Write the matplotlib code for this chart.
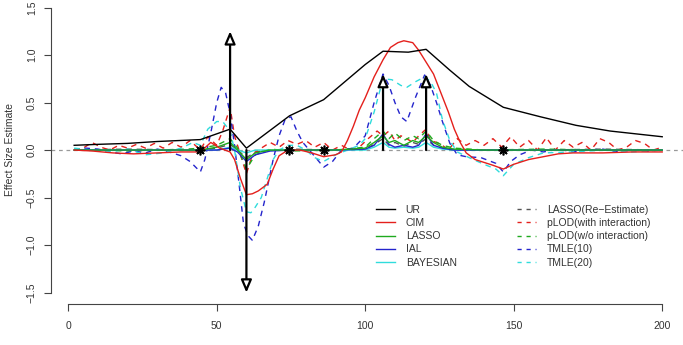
import matplotlib
matplotlib.use("Agg")
import matplotlib.pyplot as plt
from matplotlib.lines import Line2D

plt.rcParams['font.family'] = ['Liberation Sans', 'DejaVu Sans']

# ---- data ----
ur_x = [2, 10, 20, 30, 44.5, 54.5, 60, 74.5, 86, 100, 106, 114.5, 120.5, 128.5, 135, 146.5, 159, 171, 182.5, 200]
ur_y = [0.05, 0.06, 0.07, 0.09, 0.11, 0.22, 0.02, 0.36, 0.53, 0.9, 1.04, 1.03, 1.06, 0.84, 0.67, 0.45, 0.35, 0.26, 0.2, 0.14]

cim_x = [2, 8, 15, 22, 30, 38, 44.5, 48, 51, 54.5, 56, 58, 60, 62, 64, 67, 69, 71, 74, 78,
         82, 86, 90, 92, 94, 96, 98, 100, 103, 106, 108.5, 111, 113, 116, 118, 120, 123, 126, 128, 130,
         132, 134, 137, 140, 143, 146.5, 150, 155, 160, 165, 170, 180, 190, 200]
cim_y = [0.0, -0.01, -0.03, -0.04, -0.03, -0.02, -0.02, 0.08, 0.02, -0.02, -0.1, -0.3, -0.47, -0.46, -0.43, -0.36, -0.2, -0.06, 0.0, 0.0,
         -0.03, -0.07, -0.05, -0.02, 0.1, 0.25, 0.42, 0.55, 0.77, 0.95, 1.08, 1.13, 1.15, 1.13, 1.05, 0.95, 0.8, 0.56, 0.4, 0.22,
         0.08, -0.03, -0.1, -0.13, -0.16, -0.2, -0.15, -0.1, -0.07, -0.04, -0.03, -0.03, -0.02, -0.02]

# LASSO, IAL, BAYESIAN, LASSO(Re-Estimate), pLOD(w/o) share the same marker grid
grid_x = [2, 20, 40, 44.5, 50, 54.5, 57, 60, 63, 68, 75, 90, 100, 103, 106, 108, 110, 113, 116, 118,
          120.5, 123, 126, 130, 140, 160, 180, 200]
lasso_y = [0.0, 0.0, 0.0, 0.0, 0.03, 0.08, 0.0, -0.1, -0.03, 0.0, 0.0, 0.0, 0.02, 0.08, 0.15, 0.08, 0.1, 0.05, 0.1, 0.08,
           0.15, 0.08, 0.03, 0.01, 0.0, 0.0, 0.0, 0.0]
ial_y = [0.0, 0.0, 0.0, 0.0, 0.0, 0.02, -0.02, -0.12, -0.05, -0.01, 0.0, 0.0, 0.01, 0.05, 0.17, 0.06, 0.03, 0.05, 0.03, 0.05,
         0.17, 0.05, 0.02, 0.0, 0.0, 0.0, 0.0, 0.0]
bayes_y = [0.0, 0.0, 0.0, 0.0, 0.0, 0.03, 0.0, -0.03, 0.0, 0.0, 0.0, 0.0, 0.0, 0.03, 0.08, 0.03, 0.02, 0.03, 0.02, 0.03,
           0.08, 0.03, 0.01, 0.0, 0.0, 0.0, 0.0, 0.0]
lasso_re_y = [0.0, 0.01, 0.0, 0.0, 0.02, 0.06, 0.0, -0.08, -0.02, 0.0, 0.01, 0.0, 0.01, 0.06, 0.12, 0.05, 0.08, 0.04, 0.08, 0.06,
              0.12, 0.05, 0.02, 0.0, 0.0, 0.0, 0.01, 0.0]
plod_wo_y = [0.01, -0.01, 0.01, 0.02, 0.05, 0.12, 0.02, -0.2, -0.05, 0.01, -0.01, 0.0, 0.03, 0.12, 0.2, 0.12, 0.18, 0.1, 0.15, 0.12,
             0.2, 0.1, 0.05, 0.02, 0.0, 0.01, 0.0, 0.0]

plod_x = [2, 5, 8, 11, 14, 17, 20, 23, 26, 29, 32, 35, 38, 41, 44.5, 47, 50, 52, 54.5, 56,
          58, 60, 62, 65, 68, 71, 74, 77, 80, 83, 86, 89, 92, 95, 98, 101, 104, 106, 108, 110,
          112, 114, 116, 118, 120.5, 122, 124, 126, 128, 131, 134, 137, 140, 143, 146, 149, 152, 155, 158, 161,
          164, 167, 170, 173, 176, 179, 182, 185, 188, 191, 194, 197, 200]
plod_y = [0.0, 0.02, 0.08, 0.03, 0.0, 0.05, 0.02, 0.06, 0.02, 0.07, 0.02, 0.08, 0.03, 0.1, 0.0, 0.14, 0.05, 0.2, 0.45, 0.15,
          -0.05, -0.25, -0.05, 0.02, 0.08, 0.03, 0.1, 0.06, 0.1, 0.03, 0.08, 0.0, 0.05, 0.0, 0.03, 0.12, 0.2, 0.15, 0.2, 0.1,
          0.15, 0.12, 0.08, 0.15, 0.22, 0.1, 0.08, 0.05, 0.0, 0.12, 0.05, 0.1, 0.05, 0.12, 0.03, 0.14, 0.03, 0.1, 0.0, 0.13,
          0.0, 0.1, 0.03, 0.08, 0.0, 0.12, 0.08, 0.0, 0.03, 0.1, 0.07, 0.0, 0.03]

tmle10_x = [2, 6, 10, 14, 18, 22, 26, 30, 34, 38, 41, 44.5, 46, 48, 50, 51.5, 53, 54.5, 56, 57.5,
            59, 60.5, 62, 64, 66, 69, 71, 73, 75, 77, 79, 82, 86, 89, 92, 96, 100, 103, 106, 108,
            110, 112, 114, 117, 120, 122, 124, 126, 128.5, 131, 134, 139, 144, 146.5, 149, 152, 156, 160, 165, 170,
            175, 180, 185, 190, 195, 200]
tmle10_y = [0.0, 0.02, 0.01, -0.02, -0.04, -0.01, -0.03, 0.01, -0.02, -0.06, -0.12, -0.23, -0.1, 0.18, 0.5, 0.66, 0.6, 0.39, 0.05, -0.35,
            -0.77, -0.9, -0.95, -0.8, -0.55, -0.1, 0.15, 0.32, 0.35, 0.2, 0.08, -0.03, -0.18, -0.12, 0.0, 0.02, 0.15, 0.5, 0.8, 0.68,
            0.5, 0.35, 0.3, 0.56, 0.79, 0.68, 0.5, 0.3, 0.07, -0.05, -0.07, -0.08, -0.14, -0.23, -0.12, -0.05, 0.0, -0.02, 0.01, -0.02,
            0.0, 0.01, -0.02, 0.0, -0.01, 0.0]

tmle20_x = [2, 8, 14, 20, 26, 32, 38, 42, 44.5, 47, 50, 52, 54.5, 56, 58, 60, 61.5, 63, 65, 67,
            69, 71, 74, 77, 80, 83, 86, 90, 94, 98, 100, 103, 106, 109, 112, 114, 117, 120, 122, 124,
            126, 128.5, 131, 135, 140, 144, 146.5, 150, 155, 160, 170, 180, 190, 200]
tmle20_y = [0.02, 0.0, -0.02, 0.01, -0.05, -0.03, 0.02, 0.08, 0.05, 0.22, 0.3, 0.3, 0.2, 0.0, -0.4, -0.65, -0.66, -0.6, -0.5, -0.3,
            -0.1, 0.0, 0.05, 0.05, 0.0, -0.08, -0.12, -0.05, 0.0, 0.05, 0.12, 0.4, 0.75, 0.74, 0.68, 0.66, 0.72, 0.77, 0.72, 0.6,
            0.32, 0.1, -0.02, -0.08, -0.15, -0.2, -0.27, -0.15, -0.08, -0.03, -0.02, 0.0, -0.02, 0.0]

# true QTL effects (arrows) and null markers (asterisks)
qtl_x = [54.5, 60, 106, 120.5]
qtl_effect = [1.25, -1.5, 0.8, 0.8]
null_x = [44.5, 74.5, 86, 146.5]

x_ticks = [0, 50, 100, 150, 200]
y_ticks = [-1.5, -1.0, -0.5, 0.0, 0.5, 1.0, 1.5]

# ---- figure ----
W, H = 683, 345
fig = plt.figure(figsize=(W / 100, H / 100), dpi=100)
ax = fig.add_axes([50.7 / W, 1 - 304 / H, (683 - 50.7) / W, (304 + 3.9) / H])
ax.set_xlim(-5.9, 207.0)
ax.set_ylim(-1.62, 1.62)

BLACK, RED, GREEN, BLUE, CYAN, GREY = 'black', '#e4201c', '#1faa1f', '#2424cc', '#30dcdc', '#555555'
dash = (0, (4, 3.5))
lw = 1.0

ax.axhline(0, color='#999999', lw=0.9, ls=(0, (3, 3)), zorder=1)

series = [
    (grid_x, lasso_re_y, GREY, dash, 'LASSO(Re\u2212Estimate)'),
    (plod_x, plod_y, RED, dash, 'pLOD(with interaction)'),
    (grid_x, plod_wo_y, GREEN, dash, 'pLOD(w/o interaction)'),
    (tmle10_x, tmle10_y, BLUE, dash, 'TMLE(10)'),
    (tmle20_x, tmle20_y, CYAN, dash, 'TMLE(20)'),
    (grid_x, bayes_y, CYAN, '-', 'BAYESIAN'),
    (grid_x, ial_y, BLUE, '-', 'IAL'),
    (grid_x, lasso_y, GREEN, '-', 'LASSO'),
    (cim_x, cim_y, RED, '-', 'CIM'),
    (ur_x, ur_y, BLACK, '-', 'UR'),
]
for xs, ys, c, ls, _ in series:
    ax.plot(xs, ys, color=c, ls=ls, lw=lw, zorder=2)

for qx, qe in zip(qtl_x, qtl_effect):
    ax.annotate('', xy=(qx, qe), xytext=(qx, 0),
                arrowprops=dict(arrowstyle='-|>,head_width=0.32,head_length=0.75',
                                fc='white', ec='black', lw=1.6,
                                shrinkA=0, shrinkB=0, mutation_scale=10),
                zorder=4)

ax.plot(null_x, [0] * len(null_x), ls='none', marker=(8, 2, 0), ms=7,
        mew=1.2, color='black', zorder=5)

# R-like axes
for s in ['top', 'right']:
    ax.spines[s].set_visible(False)
ax.spines['left'].set_bounds(-1.5, 1.5)
ax.spines['bottom'].set_bounds(0, 200)
for s in ['left', 'bottom']:
    ax.spines[s].set_color('#444444')
    ax.spines[s].set_linewidth(0.8)
ax.set_xticks(x_ticks)
ax.set_yticks(y_ticks)
ax.set_yticklabels([f'{v:.1f}'.replace('-', '\u2212') for v in y_ticks],
                   rotation=90, va='center')
ax.tick_params(length=5, width=0.8, color='#444444', labelsize=7.5,
               labelcolor='#333333')
ax.tick_params(axis='y', pad=5)
ax.tick_params(axis='x', pad=7)

fig.text(10 / W, 1 - 150 / H, 'Effect Size Estimate', rotation=90,
         ha='center', va='center', fontsize=7.5, color='#333333')

# legend: two columns placed separately like R's legend()
solid = [s for s in series if s[3] == '-'][::-1]
dashed = [s for s in series if s[3] != '-']
leg_kw = dict(frameon=False, fontsize=7.5, handlelength=1.85, handletextpad=1.0,
              labelspacing=0.3, borderpad=0, borderaxespad=0, loc='upper left',
              bbox_transform=fig.transFigure, labelcolor='#333333')
h1 = [Line2D([], [], color=s[2], ls=s[3], lw=lw) for s in solid]
leg1 = fig.legend(h1, [s[4] for s in solid], bbox_to_anchor=(376 / W, 1 - 205 / H), **leg_kw)
h2 = [Line2D([], [], color=s[2], ls=(0, (3, 3.5)), lw=lw) for s in dashed]
leg2 = fig.legend(h2, [s[4] for s in dashed], bbox_to_anchor=(517 / W, 1 - 205 / H), **leg_kw)

fig.savefig('out.png', dpi=100)
